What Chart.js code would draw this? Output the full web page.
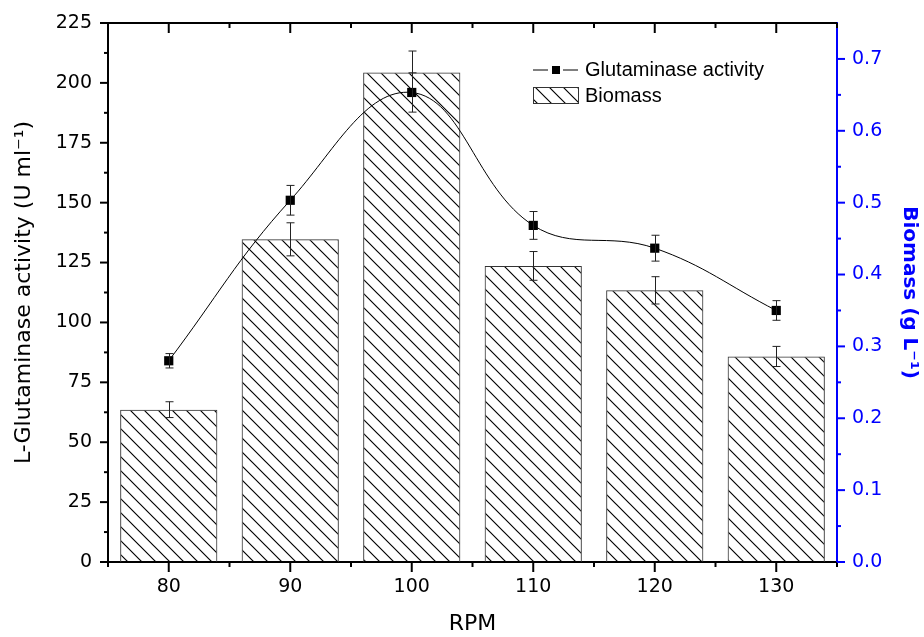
<!DOCTYPE html>
<html>
<head>
<meta charset="utf-8">
<script src="https://cdn.jsdelivr.net/npm/chart.js@4.4.0/dist/chart.umd.min.js"></script>
<style>
    html, body { margin: 0; padding: 0; background: #fff; }
    #wrap { width: 924px; height: 637px; position: relative; }
</style>
</head>
<body>
<div id="wrap"><canvas id="rpmChart"></canvas></div>
<script>
// values
const rpm = [80, 90, 100, 110, 120, 130];
const activity = [84, 151, 196, 140.5, 131, 105];
const activityErr = [3, 6.2, 8.2, 5.8, 5.4, 4.1];
const biomass = [0.212, 0.449, 0.681, 0.412, 0.378, 0.286];
const biomassErr = [0.011, 0.023, 0.030, 0.020, 0.019, 0.014];

const xTicks = [80, 90, 100, 110, 120, 130];
const yTicks = [0, 25, 50, 75, 100, 125, 150, 175, 200, 225];
const y2Ticks = [0, 0.1, 0.2, 0.3, 0.4, 0.5, 0.6, 0.7];

const BLUE = '#0000ff';
Chart.defaults.font.family = 'DejaVu Sans';

// diagonal hatch like the Origin fill
function makeHatch() {
    const c = document.createElement('canvas');
    c.width = 14; c.height = 14;
    const g = c.getContext('2d');
    g.strokeStyle = '#000';
    g.lineWidth = 1.15;
    g.beginPath();
    g.moveTo(-7, -7); g.lineTo(21, 21);
    g.moveTo(-7, 7); g.lineTo(7, 21);
    g.moveTo(7, -7); g.lineTo(21, 7);
    g.stroke();
    return g.createPattern(c, 'repeat');
}
const hatch = makeHatch();

const mids = arr => arr.slice(1).map((v, i) => (v + arr[i]) / 2);

const errorBars = {
    id: 'errorBars',
    afterDatasetDraw(chart, args) {
        const ds = chart.data.datasets[args.index];
        if (!ds.errors) return;
        const ctx = chart.ctx;
        const xs = chart.scales.x;
        const ys = chart.scales[ds.yAxisID];
        ctx.save();
        ctx.strokeStyle = '#222';
        ctx.lineWidth = 1;
        ds.values.forEach((v, i) => {
            const x = Math.round(xs.getPixelForValue(rpm[i])) + 0.5;
            const t = ys.getPixelForValue(v + ds.errors[i]);
            const b = ys.getPixelForValue(v - ds.errors[i]);
            ctx.beginPath();
            ctx.moveTo(x, t); ctx.lineTo(x, b);
            ctx.moveTo(x - 4, t); ctx.lineTo(x + 4, t);
            ctx.moveTo(x - 4, b); ctx.lineTo(x + 4, b);
            ctx.stroke();
        });
        ctx.restore();
    }
};

const axisMarks = {
    id: 'axisMarks',
    afterDraw(chart) {
        const { ctx, chartArea: ca, scales: { x, y, y2 } } = chart;
        const seg = (x1, y1, x2, y2_) => { ctx.beginPath(); ctx.moveTo(x1, y1); ctx.lineTo(x2, y2_); ctx.stroke(); };
        ctx.save();
        ctx.lineWidth = 2;
        ctx.strokeStyle = '#000';
        seg(ca.left - 1, ca.top, ca.right, ca.top);

        const xMinor = [x.min, ...mids(xTicks), x.max];
        xTicks.forEach(v => {
            const px = x.getPixelForValue(v);
            seg(px, ca.bottom, px, ca.bottom + 10);
            seg(px, ca.top, px, ca.top + 10);
        });
        xMinor.forEach(v => {
            const px = x.getPixelForValue(v);
            seg(px, ca.bottom, px, ca.bottom + 5);
            seg(px, ca.top, px, ca.top + 5);
        });

        yTicks.forEach(v => { const py = y.getPixelForValue(v); seg(ca.left - 8, py, ca.left, py); });
        mids(yTicks).forEach(v => { const py = y.getPixelForValue(v); seg(ca.left - 4, py, ca.left, py); });

        ctx.strokeStyle = BLUE;
        y2Ticks.forEach(v => { const py = y2.getPixelForValue(v); seg(ca.right, py, ca.right + 8, py); });
        mids(y2Ticks).forEach(v => { const py = y2.getPixelForValue(v); seg(ca.right, py, ca.right + 4, py); });
        ctx.restore();
    }
};

const legendBox = {
    id: 'legendBox',
    afterDraw(chart) {
        const { ctx, chartArea: ca } = chart;
        const lx = ca.left + 425, ly = ca.top + 47;
        ctx.save();
        ctx.strokeStyle = '#000';
        ctx.lineWidth = 1;
        ctx.beginPath();
        ctx.moveTo(lx, ly); ctx.lineTo(lx + 15, ly);
        ctx.moveTo(lx + 30, ly); ctx.lineTo(lx + 45, ly);
        ctx.stroke();
        ctx.fillStyle = '#000';
        ctx.fillRect(lx + 19, ly - 4, 8, 8);

        ctx.fillStyle = hatch;
        ctx.fillRect(lx, ly + 17, 45, 16);
        ctx.strokeStyle = '#333';
        ctx.strokeRect(lx + 0.5, ly + 17.5, 45, 16);

        ctx.fillStyle = '#000';
        ctx.font = '20px "Liberation Sans"';
        ctx.textBaseline = 'middle';
        ctx.fillText('Glutaminase activity', lx + 52, ly);
        ctx.fillText('Biomass', lx + 52, ly + 26);
        ctx.restore();
    }
};

new Chart(document.getElementById('rpmChart'), {
    type: 'bar',
    data: {
        datasets: [
            {
                type: 'line',
                label: 'Glutaminase activity',
                data: rpm.map((r, i) => ({ x: r, y: activity[i] })),
                values: activity,
                errors: activityErr,
                yAxisID: 'y',
                borderColor: '#000',
                borderWidth: 1,
                tension: 0.4,
                fill: false,
                pointStyle: 'rect',
                pointRadius: 6.5,
                pointBackgroundColor: '#000',
                pointBorderColor: '#000',
                pointBorderWidth: 0,
                order: 1
            },
            {
                label: 'Biomass',
                data: rpm.map((r, i) => ({ x: r, y: biomass[i] })),
                values: biomass,
                errors: biomassErr,
                yAxisID: 'y2',
                backgroundColor: hatch,
                borderColor: '#333',
                borderWidth: 1,
                categoryPercentage: 1,
                barPercentage: 0.8,
                order: 2
            }
        ]
    },
    options: {
        responsive: true,
        maintainAspectRatio: false,
        animation: false,
        layout: { padding: { top: 23, left: 0, right: 0, bottom: 0 } },
        plugins: { legend: { display: false }, tooltip: { enabled: false } },
        scales: {
            x: {
                type: 'linear',
                position: 'bottom',
                min: 75,
                max: 135,
                offset: false,
                afterBuildTicks: s => { s.ticks = xTicks.map(v => ({ value: v })); },
                afterFit: s => { s.height = 75; },
                grid: { display: false, tickLength: 10 },
                border: { display: true, color: '#000', width: 2 },
                ticks: { color: '#000', font: { size: 19 }, padding: 4, maxRotation: 0 },
                title: { display: true, text: 'RPM', color: '#000', font: { size: 22 }, padding: { top: 0, bottom: 0 } }
            },
            y: {
                position: 'left',
                min: 0,
                max: 225,
                afterBuildTicks: s => { s.ticks = yTicks.map(v => ({ value: v })); },
                afterFit: s => { s.width = 108; },
                grid: { display: false, tickLength: 8 },
                border: { display: true, color: '#000', width: 2 },
                ticks: { color: '#000', font: { size: 19 }, padding: 8 },
                title: { display: true, text: 'L-Glutaminase activity (U ml⁻¹)', color: '#000', font: { size: 22 }, padding: { top: 11, bottom: 0 } }
            },
            y2: {
                position: 'right',
                min: 0,
                max: 0.75,
                afterBuildTicks: s => { s.ticks = y2Ticks.map(v => ({ value: v })); },
                afterFit: s => { s.width = 87; },
                grid: { display: false, tickLength: 8 },
                border: { display: true, color: BLUE, width: 2 },
                ticks: { color: BLUE, font: { size: 19 }, padding: 7, callback: v => Number(v).toFixed(1) },
                title: { display: true, text: 'Biomass (g L⁻¹)', color: BLUE, font: { size: 20, weight: 'bold' }, padding: { top: 3, bottom: 0 } }
            }
        }
    },
    plugins: [errorBars, axisMarks, legendBox]
});
</script>
</body>
</html>
